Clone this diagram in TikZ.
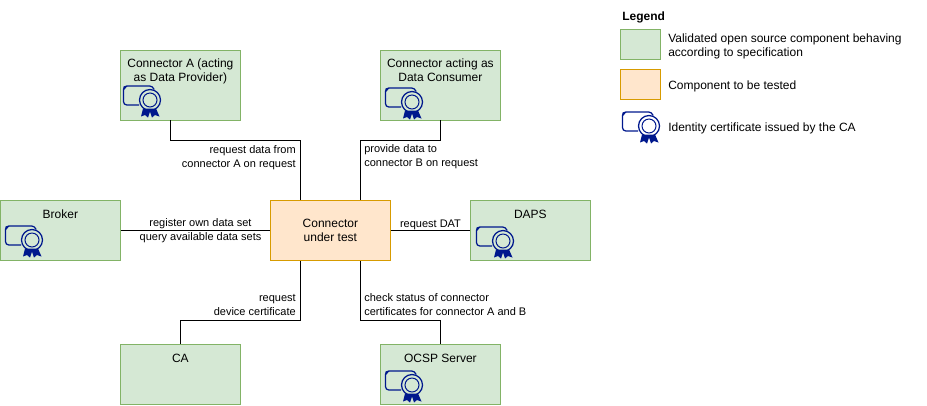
\documentclass[tikz,border=0pt]{standalone}
\usepackage{fontspec}
\setmainfont{Liberation Sans}
\usepackage{xcolor}
\usetikzlibrary{calc,positioning}
\definecolor{OkFill}{HTML}{D5E8D4}
\definecolor{OkLine}{HTML}{82B366}
\definecolor{TestFill}{HTML}{FFE6CC}
\definecolor{TestLine}{HTML}{D79B00}
\definecolor{CertBlue}{HTML}{00188D}
\tikzset{
  okbox/.style={draw=OkLine,fill=OkFill,line width=0.55pt,anchor=north west,inner sep=0pt,
    minimum width=90pt,minimum height=#1,align=center,font=\fontsize{9}{10.5}\selectfont,
    text height=13.5pt,text depth=#1-13.5pt},
  twolines/.style={text height=23.5pt,text depth=29pt},
  testbox/.style={draw=TestLine,fill=TestFill,line width=0.55pt,anchor=north west,inner sep=0pt,
    minimum width=90pt,minimum height=45pt,align=center,font=\fontsize{9}{10.5}\selectfont},
  edgetext/.style={inner sep=0pt,font=\fontsize{8.25}{10.5}\selectfont},
  legendtext/.style={anchor=west,inner sep=0pt,align=left,font=\fontsize{9}{10.5}\selectfont},
  link/.style={draw=black,line width=0.55pt},
  certicon/.pic={
    \draw[CertBlue,line width=0.95pt,rounded corners=2.5pt] (16,19.5) -- (0.5,19.5) -- (0.5,0.5) -- (30,0.5) -- (31,4);
    \fill[CertBlue] (0.5,5) -- (0.5,1) -- (4.5,0.5) -- cycle;
    \fill[CertBlue] (20,23) -- (18,31) -- (22,29.5) -- (25,32) -- (27,26) -- (29,32) -- (32,29.5) -- (36.5,31) -- (33,23) -- cycle;
    \draw[CertBlue,line width=0.95pt] (27,14.5) circle (10.5);
    \draw[CertBlue,line width=0.75pt] (27,14.5) circle (7);
  }
}
\begin{document}
\begin{tikzpicture}[x=0.75pt,y=-0.75pt]
  \useasboundingbox (0,0) rectangle (927,405);
  % boxes
  \node[okbox=52.5pt,twolines] (connA) at (120,49.5) {Connector A (acting\\as Data Provider)};
  \node[okbox=52.5pt,twolines] (connB) at (380,49.5) {Connector acting as\\Data Consumer};
  \node[okbox=45pt] (broker) at (0,200) {Broker};
  \node[testbox] (dut) at (270,200) {Connector\\under test};
  \node[okbox=45pt] (daps) at (470,200) {DAPS};
  \node[okbox=45pt] (ca) at (120,344) {CA};
  \node[okbox=45pt] (ocsp) at (380,344) {OCSP Server};
  % links
  \draw[link] ([xshift=-7.5pt]connA.south) -- ++(0,20.5) -| ([xshift=-22.5pt]dut.north);
  \draw[link] (connB.south) -- ++(0,20.5) -| ([xshift=22.5pt]dut.north);
  \draw[link] (broker.east) -- (dut.west);
  \draw[link] (dut.east) -- (daps.west);
  \draw[link] (ca.north) -- ++(0,-24) -| ([xshift=-22.5pt]dut.south);
  \draw[link] (ocsp.north) -- ++(0,-24) -| ([xshift=22.5pt]dut.south);
  % link texts
  \node[edgetext,align=right,anchor=east] (txtA) at (296,158) {request data from\\connector A on request};
  \node[edgetext,align=left,anchor=west] (txtB) at (364,157) {provide data to\\connector B on request};
  \node[edgetext,align=center] (txtBroker) at (200.5,231) {register own data set\\query available data sets};
  \node[edgetext] (txtDaps) at (430.5,224.5) {request DAT};
  \node[edgetext,align=right,anchor=east] (txtCa) at (296,305) {request\\device certificate};
  \node[edgetext,align=left,anchor=west] (txtOcsp) at (364,305) {check status of connector\\certificates for connector A and B};
  % icons
  \pic at (123,85.5) {certicon};
  \pic at (385,87.5) {certicon};
  \pic at (5,225.5) {certicon};
  \pic at (476,226.5) {certicon};
  \pic at (385,370.5) {certicon};
  % legend
  \node[anchor=west,inner sep=0pt,font=\fontsize{9}{10.5}\selectfont\bfseries] (legend) at (622,17) {Legend};
  \node[okbox=22.5pt,minimum width=30pt] (keyOk) at (620,29) {};
  \node[testbox,minimum width=30pt,minimum height=22.5pt] (keyTest) at (620,69) {};
  \pic at (622,111.5) {certicon};
  \node[legendtext] (txtOk) at (668,46) {Validated open source component behaving\\according to specification};
  \node[legendtext] (txtTest) at (668,86) {Component to be tested};
  \node[legendtext] (txtCert) at (668,128) {Identity certificate issued by the CA};
\end{tikzpicture}
\end{document}
